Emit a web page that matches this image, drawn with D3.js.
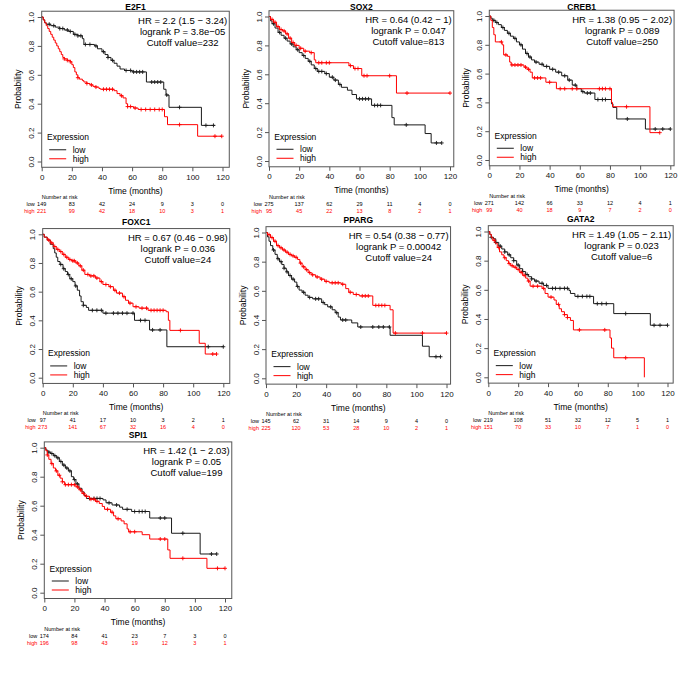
<!DOCTYPE html>
<html><head><meta charset="utf-8">
<script src="https://cdn.jsdelivr.net/npm/d3@7"></script>
<style>body{margin:0;background:#fff}svg{display:block;font-family:"Liberation Sans",Arial,sans-serif}</style>
</head><body>
<script>
// ---------- DATA ----------
const genes = ["E2F1","SOX2","CREB1","FOXC1","PPARG","GATA2","SPI1"];
const hrText = ["HR = 2.2 (1.5 \u2212 3.24)","HR = 0.64 (0.42 \u2212 1)","HR = 1.38 (0.95 \u2212 2.02)","HR = 0.67 (0.46 \u2212 0.98)","HR = 0.54 (0.38 \u2212 0.77)","HR = 1.49 (1.05 \u2212 2.11)","HR = 1.42 (1 \u2212 2.03)"];
const logrankText = ["logrank P = 3.8e\u221205","logrank P = 0.047","logrank P = 0.089","logrank P = 0.036","logrank P = 0.00042","logrank P = 0.023","logrank P = 0.05"];
const cutoffText = ["Cutoff value=232","Cutoff value=813","Cutoff value=250","Cutoff value=24","Cutoff value=24","Cutoff value=6","Cutoff value=199"];
const xTicks = [0,20,40,60,80,100,120];
const yTicks = [0,0.2,0.4,0.6,0.8,1.0];
const riskTimes = [0,20,40,60,80,100,120];
const groupNames = ["low","high"];

// risk tables
const e2f1RiskLow = [149,83,42,24,9,3,0],   e2f1RiskHigh = [221,99,42,18,10,3,1];
const sox2RiskLow = [275,137,62,29,11,4,0], sox2RiskHigh = [95,45,22,13,8,2,1];
const creb1RiskLow = [271,142,66,33,12,4,1], creb1RiskHigh = [99,40,18,9,7,2,0];
const foxc1RiskLow = [97,41,17,10,3,2,1],   foxc1RiskHigh = [273,141,67,32,16,4,0];
const ppargRiskLow = [145,62,31,14,9,4,0],  ppargRiskHigh = [225,120,53,28,10,2,1];
const gata2RiskLow = [219,108,51,32,12,5,1], gata2RiskHigh = [151,70,33,10,7,1,0];
const spi1RiskLow = [174,84,41,23,7,3,0],   spi1RiskHigh = [196,98,43,19,12,3,1];

// KM steps [time, survival], censor times, end times
const e2f1Low = [[0,1],[1,0.98],[2,0.96],[3,0.95],[6,0.94],[9,0.93],[12,0.92],[15,0.91],[18,0.90],[21,0.88],[24,0.87],[27,0.85],[28,0.81],[35,0.80],[37,0.78],[40,0.76],[42,0.74],[44,0.72],[46,0.70],[48,0.68],[50,0.66],[52,0.64],[55,0.63],[60,0.62],[69.5,0.55],[81,0.50],[82.5,0.46],[84.5,0.375],[106,0.25]];
const e2f1LowCens = [5,8,12,14,17,19,22,24,26,29,32,36,41,44,47,56,59,61,63,65,67,73,75,77,79,83,91.5,109,114];
const e2f1High = [[0,1],[1,0.98],[2,0.96],[3,0.94],[4,0.92],[5,0.90],[6,0.88],[7,0.86],[8,0.84],[9,0.82],[10,0.80],[11,0.78],[12,0.76],[13,0.74],[14,0.72],[15,0.71],[17,0.70],[19,0.69],[20,0.67],[21,0.65],[22,0.62],[23,0.60],[24,0.58],[25,0.57],[27,0.56],[28,0.55],[30,0.54],[32,0.53],[34,0.52],[36,0.515],[38,0.505],[39,0.50],[48,0.49],[50,0.47],[52,0.455],[54,0.44],[56,0.40],[57,0.38],[61,0.37],[64,0.36],[81.5,0.31],[83.5,0.255],[103.5,0.175]];
const e2f1HighCens = [15,17,19,24,30,33,36,41,43,45,47,53,57,59,62,66,69,72,75,78,80,91.5,115,119.5];
const sox2Low = [[0,1],[1,0.97],[2,0.95],[4,0.92],[6,0.89],[8,0.87],[10,0.85],[12,0.83],[14,0.81],[16,0.79],[18,0.77],[20,0.75],[22,0.73],[24,0.71],[26,0.69],[28,0.665],[30,0.64],[32,0.62],[37,0.605],[40,0.58],[43,0.56],[46,0.53],[48,0.51],[52,0.49],[55,0.46],[58,0.43],[68,0.385],[81.5,0.30],[83,0.25],[103.5,0.19],[107.5,0.125]];
const sox2LowCens = [3,7,11,15,19,23,27,31,33,35,38,42,44,47,60,62,64,66,70,72,74,91,111,114.5];
const sox2High = [[0,1],[1,0.98],[3,0.96],[5,0.93],[7,0.91],[9,0.90],[11,0.88],[13,0.85],[15,0.82],[17,0.80],[20,0.78],[23,0.76],[27,0.75],[30,0.70],[31,0.68],[53,0.66],[56,0.64],[61.5,0.59],[84.5,0.47]];
const sox2HighCens = [2,4,6,8,10,12,14,16,18,21,24,28,33,35,38,40,54,57,59,63,65,80,91.5,120];
const creb1Low = [[0,1],[1,0.985],[2,0.97],[4,0.955],[6,0.94],[8,0.92],[10,0.90],[12,0.88],[14,0.86],[16,0.845],[18,0.82],[20,0.80],[22,0.77],[24,0.74],[26,0.715],[28,0.695],[30,0.68],[33,0.665],[36,0.65],[40,0.63],[44,0.61],[48,0.585],[52,0.555],[55,0.52],[58,0.495],[61,0.475],[63,0.465],[70,0.42],[81,0.39],[82,0.365],[84.5,0.285],[103.5,0.215]];
const creb1LowCens = [3,5,9,13,17,21,25,27,31,35,38,42,46,50,53,57,62,65,67,72,75,77,91.5,110,115,120];
const creb1High = [[0,1],[1,0.97],[2,0.92],[3,0.87],[4,0.82],[8.5,0.80],[9.5,0.73],[12,0.72],[13.5,0.68],[14.5,0.66],[23,0.645],[25,0.63],[27,0.61],[28.5,0.57],[37.5,0.54],[44.5,0.495],[81,0.40],[81.7,0.37],[106.5,0.19]];
const creb1HighCens = [8,11,15,17,19,21,24,26,30,32,34,40,47,50,55,58,73,75,77,80,91,113];
const foxc1Low = [[0,1],[1,0.98],[3,0.96],[5,0.93],[7,0.90],[8,0.87],[9,0.84],[10,0.81],[11.5,0.79],[13.5,0.76],[15,0.74],[16.5,0.72],[18,0.69],[20,0.67],[21.5,0.64],[23,0.61],[24.5,0.57],[25.5,0.53],[27,0.505],[29,0.49],[30.5,0.47],[40,0.45],[61,0.40],[71,0.333],[82.5,0.216]];
const foxc1LowCens = [12,14,17,19,22,27,33,36,39,42,47,50,53,56,60,65,68,73,78,110,120];
const foxc1High = [[0,1],[1,0.98],[3,0.96],[5,0.94],[7,0.915],[9,0.895],[11,0.88],[13,0.86],[15,0.84],[17,0.825],[19,0.815],[22,0.80],[24,0.78],[26,0.75],[28,0.72],[31,0.71],[35,0.695],[38,0.67],[40,0.65],[44,0.635],[47,0.61],[49,0.59],[53,0.565],[55,0.54],[57,0.52],[60,0.495],[64,0.485],[70,0.47],[82,0.46],[83.5,0.40],[84.5,0.33],[104,0.24],[108,0.165]];
const foxc1HighCens = [4,6,8,10,12,14,16,18,20,21,23,25,27,30,32,34,36,39,42,45,48,51,54,58,62,66,69,72,74,76,78,80,91.5,113,115.5];
const ppargLow = [[0,1],[1,0.97],[2,0.94],[3,0.91],[4.5,0.88],[6,0.85],[7.5,0.82],[9,0.80],[10.5,0.78],[12,0.755],[13.5,0.73],[15,0.705],[17,0.68],[19,0.66],[20.5,0.63],[22,0.605],[24,0.59],[26,0.57],[28,0.555],[31,0.545],[37,0.52],[39,0.505],[41,0.49],[44,0.47],[46,0.45],[48,0.42],[49.5,0.40],[57,0.38],[61,0.352],[82.5,0.295],[104,0.22],[108.5,0.148]];
const ppargLowCens = [5,8,10,12,14,16,18,21,25,29,33,35,38,43,47,51,53,63,71,75,78,82,113,116];
const ppargHigh = [[0,1],[1,0.985],[3,0.965],[5,0.94],[7,0.91],[9,0.895],[11,0.88],[13,0.865],[15,0.85],[17,0.84],[19,0.83],[21,0.815],[22.5,0.79],[24,0.765],[26,0.745],[28,0.725],[30,0.71],[33,0.695],[36,0.68],[39,0.665],[42,0.655],[50,0.645],[53,0.615],[55,0.59],[58,0.575],[62,0.565],[71,0.50],[82.5,0.47],[84.5,0.31]];
const ppargHighCens = [2,4,6,8,10,12,14,16,18,20,23,25,27,29,31,34,37,40,44,46,48,51,56,60,64,66,68,73,75,77,79,86,104,120];
const gata2Low = [[0,1],[1,0.98],[2,0.96],[3.5,0.95],[5,0.925],[7,0.90],[9,0.88],[11,0.86],[13,0.84],[15,0.82],[17,0.80],[19,0.77],[21,0.745],[23,0.725],[25,0.705],[27,0.69],[29,0.675],[31,0.66],[34,0.645],[37,0.63],[40,0.61],[54,0.595],[55,0.575],[58,0.555],[70.5,0.505],[84,0.437],[108.5,0.357]];
const gata2LowCens = [2,5,8,11,14,17,20,23,26,29,32,36,39,43,45,48,51,53,60,63,66,68,73,76,79,92,111,115,120];
const gata2High = [[0,1],[1,0.98],[2,0.96],[3,0.94],[4.5,0.92],[6,0.89],[7.5,0.86],[9,0.84],[10.5,0.82],[12,0.80],[13.5,0.78],[15,0.765],[17,0.755],[19,0.74],[21,0.72],[23,0.70],[25,0.68],[26.5,0.66],[28,0.625],[36,0.61],[38,0.575],[40,0.55],[44,0.53],[45.5,0.50],[47.5,0.47],[49,0.45],[51,0.43],[53,0.41],[55,0.39],[57,0.325],[81.5,0.27],[82.5,0.20],[84,0.134],[104.5,0]];
const gata2HighCens = [4,7,11,14,16,18,20,22,24,27,30,33,37,42,47,51,53,61,78,92];
const spi1Low = [[0,1],[1,0.985],[2,0.97],[4,0.96],[6,0.945],[8,0.93],[10,0.905],[12,0.88],[14,0.86],[16,0.84],[18,0.80],[19.5,0.78],[21,0.75],[23,0.72],[25,0.695],[26.5,0.67],[28,0.65],[39,0.64],[41,0.62],[45,0.605],[50,0.59],[52,0.575],[58,0.56],[70,0.515],[84.5,0.41],[103.5,0.267]];
const spi1LowCens = [3,5,7,9,11,13,15,17,20,22,30,33,35,37,43,48,55,60,63,65,67,77,80,92,111,114.5];
const spi1High = [[0,1],[1,0.98],[2,0.95],[3,0.92],[4.5,0.89],[6,0.86],[7.5,0.84],[9,0.81],[10.5,0.79],[12,0.765],[13.5,0.745],[21,0.73],[23,0.71],[25,0.685],[27,0.665],[30,0.645],[34,0.63],[36.5,0.615],[38.5,0.595],[40,0.575],[44,0.555],[46,0.53],[47.5,0.51],[51,0.495],[53,0.475],[55,0.44],[56,0.42],[65,0.40],[70,0.37],[82,0.295],[83.5,0.237],[108,0.168]];
const spi1HighCens = [2,5,8,10,12,14,16,18,20,22,24,26,28,31,33,35,42,45,49,57,60,77,80,92,115,120];

const lowSteps = [e2f1Low,sox2Low,creb1Low,foxc1Low,ppargLow,gata2Low,spi1Low];
const highSteps = [e2f1High,sox2High,creb1High,foxc1High,ppargHigh,gata2High,spi1High];
const lowCens = [e2f1LowCens,sox2LowCens,creb1LowCens,foxc1LowCens,ppargLowCens,gata2LowCens,spi1LowCens];
const highCens = [e2f1HighCens,sox2HighCens,creb1HighCens,foxc1HighCens,ppargHighCens,gata2HighCens,spi1HighCens];
const lowEnd = [115,114.5,120,120,116,120,114.5];
const highEnd = [119.6,120,113,115.5,120,104.5,120];
const riskLow = [e2f1RiskLow,sox2RiskLow,creb1RiskLow,foxc1RiskLow,ppargRiskLow,gata2RiskLow,spi1RiskLow];
const riskHigh = [e2f1RiskHigh,sox2RiskHigh,creb1RiskHigh,foxc1RiskHigh,ppargRiskHigh,gata2RiskHigh,spi1RiskHigh];

// ---------- LAYOUT ----------
const layout = [
  {x0:41.7, x120:222.5, y1:17,    y0:161.5, xmax:124.5},
  {x0:269,  x120:450,   y1:16.5,  y0:161,   xmax:122.5},
  {x0:489.3,x120:670.3, y1:16,    y0:160,   xmax:122.5},
  {x0:42.7, x120:223.3, y1:234.3, y0:377.7, xmax:124.3},
  {x0:266,  x120:446.5, y1:232.5, y0:378.3, xmax:122.7},
  {x0:488.3,x120:667.5, y1:231.5, y0:377.3, xmax:123.8},
  {x0:44.3, x120:225,   y1:447.7, y0:592.7, xmax:124.5}
];
const colLow = "#1a1a1a", colHigh = "#ff0000", boxCol = "#555";

const svg = d3.select("body").append("svg").attr("width",700).attr("height",700);
svg.append("rect").attr("width",700).attr("height",700).attr("fill","#fff");

function survAt(steps, t){ let s = 1; for (const [tt,ss] of steps) if (tt <= t) s = ss; return s; }

genes.forEach((g,i) => {
  const L = layout[i];
  const ppm = (L.x120 - L.x0)/120;
  const x = d3.scaleLinear().domain([0, L.xmax]).range([L.x0, L.x0 + L.xmax*ppm]);
  const pu = L.y0 - L.y1;
  const y = d3.scaleLinear().domain([-0.04, 1.04]).range([L.y0 + 0.04*pu, L.y1 - 0.04*pu]);
  const bl = x(0), br = x(L.xmax), bt = y(1.04), bb = y(-0.04);
  const G = svg.append("g");

  // title
  G.append("text").attr("x",(bl+br)/2).attr("y",Math.max(bt-4, 9.6)).attr("text-anchor","middle")
    .attr("font-size",8.5).attr("font-weight","bold").text(g);

  // axes
  const xa = G.append("g").attr("transform",`translate(0,${bb})`)
    .call(d3.axisBottom(x).tickValues(xTicks).tickSize(4).tickPadding(3).tickFormat(d3.format("d")));
  xa.select(".domain").remove();
  xa.selectAll("line").attr("stroke",boxCol);
  xa.selectAll("text").attr("font-size",8).attr("fill","#111").attr("font-family","Liberation Sans, Arial, sans-serif");
  const ya = G.append("g").attr("transform",`translate(${bl},0)`)
    .call(d3.axisLeft(y).tickValues(yTicks).tickSize(4).tickFormat(d3.format(".1f")));
  ya.select(".domain").remove();
  ya.selectAll("line").attr("stroke",boxCol);
  ya.selectAll("text").attr("x",null).attr("dy",null).attr("transform","translate(-7.5,0) rotate(-90)")
    .attr("text-anchor","middle").attr("font-size",8).attr("fill","#111").attr("font-family","Liberation Sans, Arial, sans-serif");

  // axis labels
  G.append("text").attr("x",(bl+br)/2).attr("y",bb+26.5).attr("text-anchor","middle").attr("font-size",8.5).text("Time (months)");
  G.append("text").attr("transform",`translate(${bl-20.5},${(bt+bb)/2}) rotate(-90)`).attr("text-anchor","middle").attr("font-size",8.5).text("Probability");

  // curves
  const line = d3.line().x(d=>x(d[0])).y(d=>y(d[1])).curve(d3.curveStepAfter);
  const series = [
    {steps: lowSteps[i], cens: lowCens[i], end: lowEnd[i], col: colLow},
    {steps: highSteps[i], cens: highCens[i], end: highEnd[i], col: colHigh}
  ];
  series.forEach(s => {
    const pts = s.steps.concat([[s.end, s.steps[s.steps.length-1][1]]]);
    G.append("path").attr("d", line(pts)).attr("fill","none").attr("stroke", s.col).attr("stroke-width",1);
    G.append("g").selectAll("path").data(s.cens).join("path")
      .attr("d", t => { const cx = x(t), cy = y(survAt(s.steps,t)); return `M${cx-2},${cy}H${cx+2}M${cx},${cy-2}V${cy+2}`; })
      .attr("stroke", s.col).attr("stroke-width",0.9).attr("fill","none");
  });

  // box
  G.append("rect").attr("x",bl).attr("y",bt).attr("width",br-bl).attr("height",bb-bt)
    .attr("fill","none").attr("stroke",boxCol).attr("stroke-width",1);

  // stats text (centered block at top-right)
  const lines = [hrText[i], logrankText[i], cutoffText[i]];
  const tg = G.append("g");
  const ts = tg.selectAll("text").data(lines).join("text").attr("font-size",9.5).attr("text-anchor","middle")
    .attr("y",(d,k)=>bt+12.5+11*k).text(d=>d);
  let maxW = 0; ts.each(function(){ maxW = Math.max(maxW, this.getComputedTextLength()); });
  ts.attr("x", br - 2 - maxW/2);

  // legend
  G.append("text").attr("x",bl+5.3).attr("y",bb-27).attr("font-size",8.5).text("Expression");
  [colLow,colHigh].forEach((c,k) => {
    const ly = bb - 17.5 + 9*k;
    G.append("line").attr("x1",bl+7.5).attr("x2",bl+24.5).attr("y1",ly).attr("y2",ly).attr("stroke",c).attr("stroke-width",1);
    G.append("text").attr("x",bl+31).attr("y",ly+3).attr("font-size",8.5).text(groupNames[k]);
  });

  // number at risk
  G.append("text").attr("x",L.x0).attr("y",bb+32).attr("font-size",5.5).text("Number at risk");
  [riskLow[i], riskHigh[i]].forEach((arr,k) => {
    const ry = bb + 39 + 7*k, c = k ? colHigh : "#000";
    G.append("text").attr("x",L.x0-7).attr("y",ry).attr("text-anchor","end").attr("font-size",5.5).attr("fill",c).text(groupNames[k]);
    G.append("g").selectAll("text").data(arr).join("text")
      .attr("x",(d,j)=>x(riskTimes[j])).attr("y",ry).attr("text-anchor","middle").attr("font-size",5.5).attr("fill",c).text(d=>d);
  });
});
</script>
</body></html>
